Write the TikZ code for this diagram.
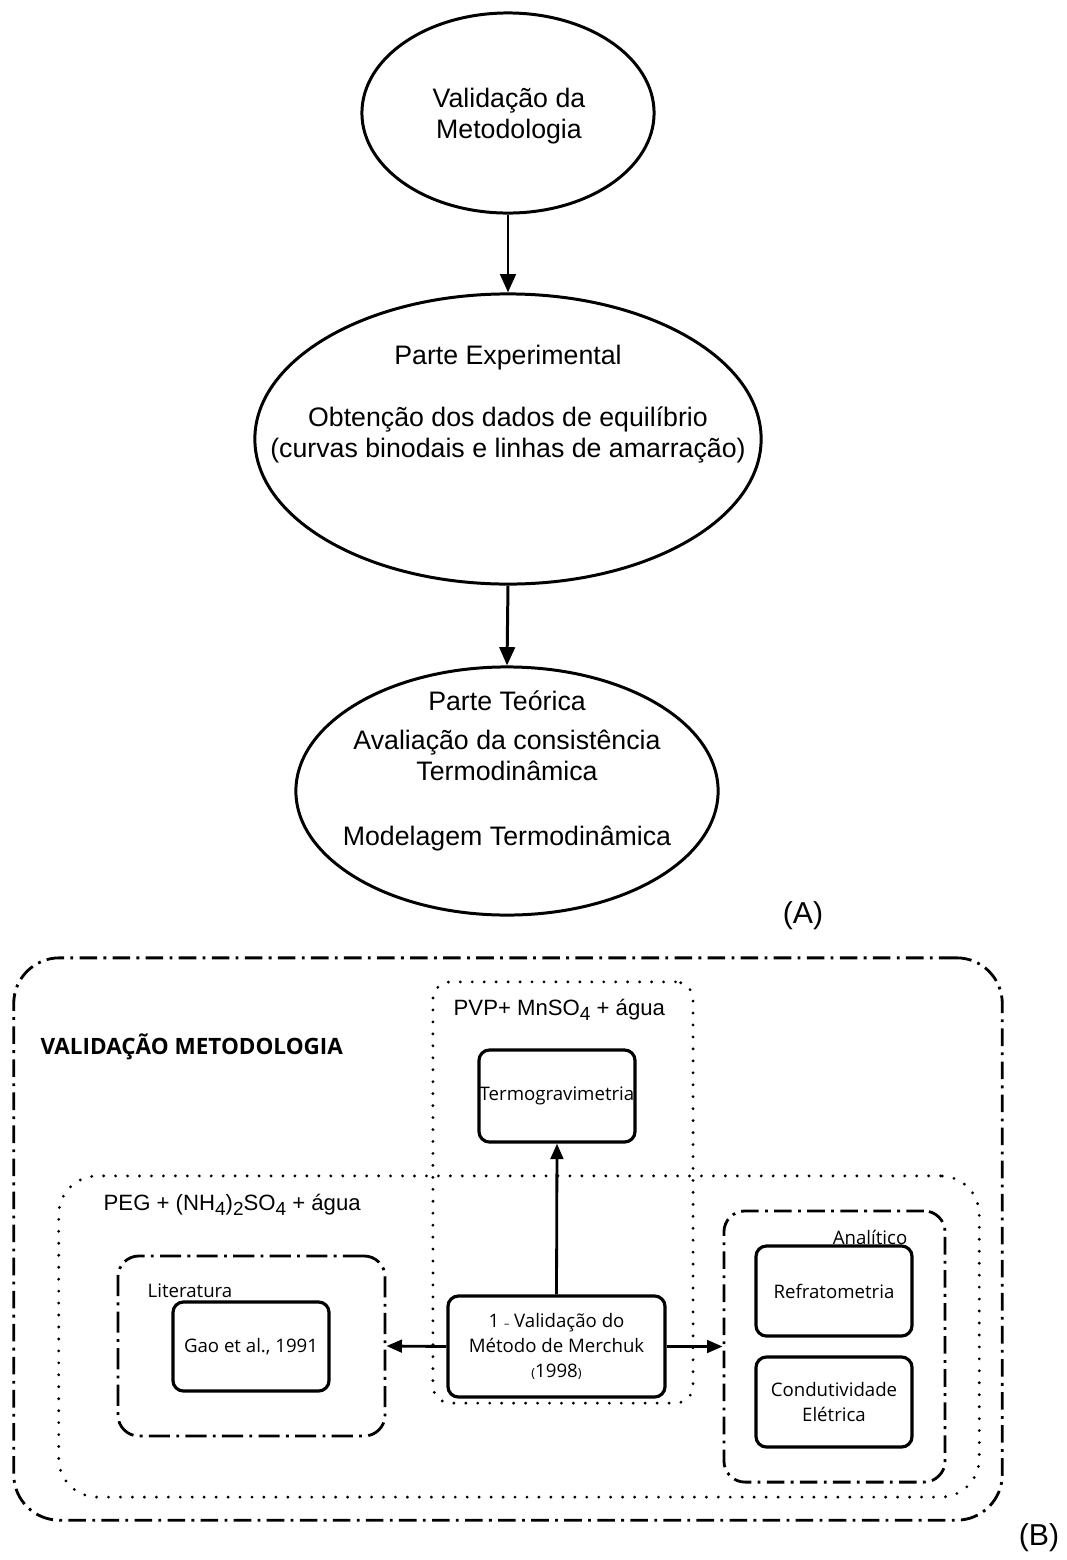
\documentclass[tikz,border=0pt]{standalone}
\usepackage{fontspec}
\setmainfont{Liberation Sans}
\newfontfamily\boxfont{Open Sans}
\usetikzlibrary{arrows.meta,shapes.geometric}
\newcommand{\lowsub}[1]{\raisebox{-1.6pt}{\fontsize{5.4}{6}\selectfont #1}}

\begin{document}
\begin{tikzpicture}[
  x=0.01cm, y=-0.01cm,
  bubble/.style={ellipse, draw, line width=0.85pt, inner sep=0pt},
  bubbletext/.style={font=\fontsize{7.6}{8.8}\selectfont, align=center, inner sep=0pt},
  flow/.style={-{Triangle[length=5.2pt, width=4.4pt]}, line width=0.85pt},
  link/.style={-{Triangle[length=4.4pt, width=3.6pt]}, line width=0.8pt},
  stepbox/.style={draw, rounded corners=3pt, line width=0.9pt, inner sep=0pt, align=center, font=\boxfont\fontsize{5.3}{7.1}\selectfont},
  dashgroup/.style={draw, line width=0.8pt, inner sep=0pt, dash pattern=on 5pt off 1.8pt on 0.8pt off 1.8pt},
  dotgroup/.style={draw, line width=0.9pt, line cap=round, inner sep=0pt, dash pattern=on 0pt off 3.4pt},
  grouplabel/.style={inner sep=0pt, font=\boxfont\fontsize{5.3}{7}\selectfont},
  tag/.style={inner sep=0pt, font=\fontsize{8.6}{10}\selectfont},
]
\useasboundingbox (0,0) rectangle (1066,1560);

% (A) etapas
\node[bubble, minimum width=2.92cm, minimum height=2.00cm] (valid) at (508,113) {};
\node[bubble, minimum width=5.06cm, minimum height=2.90cm] (exper) at (508,439) {};
\node[bubble, minimum width=4.22cm, minimum height=2.48cm] (teor) at (507,791) {};

\node[bubbletext] (validtxt) at (509,116) {Validação da\\Metodologia};
\node[bubbletext] (expertxt) at (508,404) {Parte Experimental\\[8.8pt]Obtenção dos dados de equilíbrio\\(curvas binodais e linhas de amarração)};
\node[bubbletext] (teortxt) at (507,771) {Parte Teórica\\[2.3pt]Avaliação da consistência\\Termodinâmica\\[9.7pt]Modelagem Termodinâmica};

\draw[flow] (valid.south) -- (exper.north);
\draw[flow] (exper.south) -- (teor.north);

\node[tag] (taga) at (803,916) {(A)};

% (B) grupos
\node[dashgroup, rounded corners=13pt, minimum width=9.88cm, minimum height=5.62cm] (outer) at (508,1239) {};
\node[dotgroup, rounded corners=11pt, minimum width=9.20cm, minimum height=3.21cm] (pegbox) at (519,1336.5) {};
\node[dotgroup, rounded corners=5pt, minimum width=2.60cm, minimum height=4.21cm] (pvpbox) at (563,1192.5) {};
\node[dashgroup, dash pattern=on 6pt off 1.8pt on 0.8pt off 1.8pt, rounded corners=6pt, minimum width=2.67cm, minimum height=1.80cm] (litbox) at (251.5,1346) {};
\node[dashgroup, rounded corners=6pt, minimum width=2.21cm, minimum height=2.71cm] (anabox) at (834.5,1346.5) {};

\node[anchor=west, inner sep=0pt, font=\boxfont\bfseries\fontsize{6.4}{8}\selectfont] (title) at (40,1047) {VALIDAÇÃO METODOLOGIA};
\node[anchor=base west, inner sep=0pt, font=\fontsize{6.3}{8}\selectfont] (pvplabel) at (453,1015) {PVP+ MnSO\lowsub{4} + água};
\node[anchor=base west, inner sep=0pt, font=\fontsize{6.3}{8}\selectfont] (peglabel) at (103,1210) {PEG + (NH\lowsub{4})\lowsub{2}SO\lowsub{4} + água};
\node[grouplabel, anchor=base west] (litlabel) at (147,1297) {Literatura};
\node[grouplabel, anchor=base east] (analabel) at (908,1244) {Analítico};

% caixas
\node[stepbox, minimum width=1.56cm, minimum height=0.92cm] (termo) at (557,1096) {Termogravimetria};
\node[stepbox, minimum width=1.56cm, minimum height=0.89cm] (gao) at (251,1346.5) {Gao et al., 1991};
\node[stepbox, minimum width=2.17cm, minimum height=1.01cm] (merchuk) at (556.5,1346.5) {1 {\fontsize{3}{3}\selectfont –} Validação do\\Método de Merchuk\\{\fontsize{3.6}{3.6}\selectfont (}1998{\fontsize{3.6}{3.6}\selectfont )}};
\node[stepbox, minimum width=1.56cm, minimum height=0.90cm] (refra) at (834,1291) {Refratometria};
\node[stepbox, minimum width=1.56cm, minimum height=0.90cm] (condu) at (834,1402) {Condutividade\\Elétrica};

\draw[link] (merchuk.north) -- (termo.south);
\draw[link] (merchuk.west) -- (litbox.east);
\draw[link] (merchuk.east) -- (anabox.west);

\node[tag] (tagb) at (1039,1538) {(B)};

\end{tikzpicture}
\end{document}
